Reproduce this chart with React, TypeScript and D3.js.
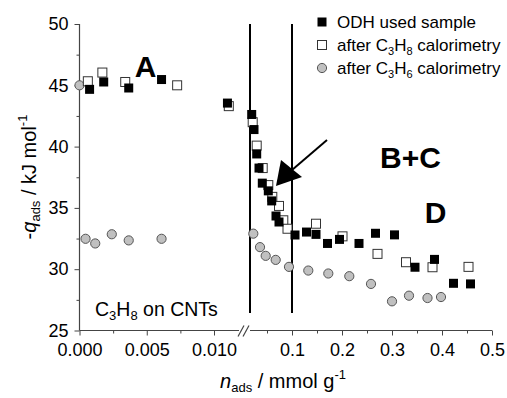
import React, { useRef, useEffect } from "react";
import * as d3 from "d3";

// n_ads (mmol/g), -q_ads (kJ/mol)
const odhUsed: [number, number][] = [
  [0.00075, 44.67], [0.0018, 45.27], [0.00366, 44.78], [0.0061, 45.47], [0.011, 43.55],
  [0.0194, 42.62], [0.024, 41.39], [0.0294, 39.4], [0.034, 38.25], [0.0406, 37.02],
  [0.0526, 36.39], [0.0594, 35.57], [0.068, 34.34], [0.074, 33.85], [0.106, 32.79],
  [0.129, 33.03], [0.148, 32.84], [0.171, 32.1], [0.195, 32.43], [0.234, 32.1],
  [0.267, 32.93], [0.305, 32.8], [0.346, 30.16], [0.385, 30.8], [0.423, 28.85], [0.457, 28.8],
];
const afterPropane: [number, number][] = [
  [0.00062, 45.33], [0.0017, 46.04], [0.0034, 45.27], [0.00726, 45.0], [0.0111, 43.3],
  [0.0214, 41.99], [0.0294, 40.08], [0.0414, 38.25], [0.0526, 36.86], [0.0606, 35.9],
  [0.074, 35.16], [0.0826, 33.99], [0.091, 33.3], [0.148, 33.71], [0.201, 32.68],
  [0.271, 31.25], [0.328, 30.57], [0.381, 30.16], [0.453, 30.19],
];
const afterPropene: [number, number][] = [
  [0.0, 45.0], [0.00045, 32.48], [0.00117, 32.1], [0.0024, 32.85], [0.00366, 32.35], [0.0061, 32.48],
  [0.0226, 32.9], [0.036, 31.8], [0.0474, 31.09], [0.0674, 30.76], [0.094, 30.19],
  [0.1326, 29.89], [0.1726, 29.65], [0.2146, 29.43], [0.258, 28.8], [0.3, 27.38],
  [0.334, 27.84], [0.371, 27.65], [0.398, 27.73],
];
const leftTicks = [0, 0.005, 0.01];
const leftMinor = [0.0025, 0.0075];
const rightTicks = [0.1, 0.2, 0.3, 0.4, 0.5];
const rightMinor = [0.05, 0.15, 0.25, 0.35, 0.45];
const yTicks = [25, 30, 35, 40, 45, 50];
const yMinor = [27.5, 32.5, 37.5, 42.5, 47.5];
const regionLines = [0.016, 0.1];

const FONT = "'Liberation Sans', Arial, sans-serif";

const Chart: React.FC = () => {
  const ref = useRef<SVGSVGElement | null>(null);

  useEffect(() => {
    if (!ref.current) return;
    const svg = d3.select(ref.current);
    svg.selectAll("*").remove();

    const y = d3.scaleLinear().domain([25, 50]).range([330.5, 24]);
    const xL = d3.scaleLinear().domain([0, 0.01]).range([79.5, 214]);
    const xR = d3.scaleLinear().domain([0, 0.5]).range([242, 492]);
    const xPos = (n: number) => (n < 0.0125 ? xL(n) : xR(n));
    const axisColor = "#444";
    const y0 = y(25);

    // axes
    const ga = svg.append("g").attr("font-family", FONT);
    const leftAx = ga.append("g").attr("transform", `translate(0,${y0})`)
      .call(d3.axisBottom(xL).tickValues(leftTicks).tickFormat(d3.format(".3f")).tickSize(5).tickPadding(8));
    const rightAx = ga.append("g").attr("transform", `translate(0,${y0})`)
      .call(d3.axisBottom(xR).tickValues(rightTicks).tickFormat(d3.format(".1f")).tickSize(5).tickPadding(8));
    const yAx = ga.append("g").attr("transform", `translate(${xL(0)},0)`)
      .call(d3.axisLeft(y).tickValues(yTicks).tickSize(5).tickPadding(6));
    [leftAx, rightAx, yAx].forEach((a) => {
      a.select(".domain").remove();
      a.selectAll("text").attr("font-size", 18).attr("fill", "#000");
    });
    ga.append("g").attr("transform", `translate(0,${y0})`)
      .call(d3.axisBottom(xL).tickValues(leftMinor).tickSize(3).tickFormat(() => ""))
      .call((g) => g.select(".domain").remove());
    ga.append("g").attr("transform", `translate(0,${y0})`)
      .call(d3.axisBottom(xR).tickValues(rightMinor).tickSize(3).tickFormat(() => ""))
      .call((g) => g.select(".domain").remove());
    ga.append("g").attr("transform", `translate(${xL(0)},0)`)
      .call(d3.axisLeft(y).tickValues(yMinor).tickSize(3).tickFormat(() => ""))
      .call((g) => g.select(".domain").remove());
    ga.selectAll("line").attr("stroke", axisColor);

    ga.append("line").attr("x1", xL(0)).attr("x2", 239).attr("y1", y0).attr("y2", y0)
      .attr("stroke", axisColor).attr("stroke-width", 1.2);
    ga.append("line").attr("x1", 250).attr("x2", xR(0.5)).attr("y1", y0).attr("y2", y0)
      .attr("stroke", axisColor).attr("stroke-width", 1.2);
    ga.append("line").attr("x1", xL(0)).attr("x2", xL(0)).attr("y1", y(50)).attr("y2", y0)
      .attr("stroke", axisColor).attr("stroke-width", 1.2);
    // axis break
    [0, 5].forEach((d) => {
      ga.append("line").attr("x1", 238 + d).attr("y1", y0 + 6).attr("x2", 244 + d).attr("y2", y0 - 5)
        .attr("stroke", axisColor).attr("stroke-width", 1.2);
    });

    // region separators
    svg.append("g").selectAll("line").data(regionLines).join("line")
      .attr("x1", (d) => xR(d)).attr("x2", (d) => xR(d))
      .attr("y1", y(50)).attr("y2", 313)
      .attr("stroke", "#000").attr("stroke-width", 2);

    // data
    const s = 9;
    svg.append("g").selectAll("circle").data(afterPropene).join("circle")
      .attr("cx", (d) => xPos(d[0])).attr("cy", (d) => y(d[1])).attr("r", 4.6)
      .attr("fill", "#c0c0c0").attr("stroke", "#555");
    svg.append("g").selectAll("rect").data(afterPropane).join("rect")
      .attr("x", (d) => xPos(d[0]) - s / 2).attr("y", (d) => y(d[1]) - s / 2)
      .attr("width", s).attr("height", s)
      .attr("fill", "#fff").attr("stroke", "#333");
    svg.append("g").selectAll("rect").data(odhUsed).join("rect")
      .attr("x", (d) => xPos(d[0]) - s / 2).attr("y", (d) => y(d[1]) - s / 2)
      .attr("width", s).attr("height", s).attr("fill", "#000");

    // legend
    const lg = svg.append("g").attr("font-family", FONT).attr("font-size", 17);
    const lx = 322, ly = 22, dy = 23;
    const tx = 337;
    lg.append("rect").attr("x", lx - s / 2).attr("y", ly - s / 2).attr("width", s).attr("height", s).attr("fill", "#000");
    lg.append("rect").attr("x", lx - s / 2).attr("y", ly + dy - s / 2).attr("width", s).attr("height", s)
      .attr("fill", "#fff").attr("stroke", "#333");
    lg.append("circle").attr("cx", lx).attr("cy", ly + 2 * dy).attr("r", 4.6).attr("fill", "#c0c0c0").attr("stroke", "#555");
    const t1 = lg.append("text").attr("x", tx).attr("y", ly + 6);
    t1.text("ODH used sample");
    const t2 = lg.append("text").attr("x", tx).attr("y", ly + dy + 6);
    t2.append("tspan").text("after C");
    t2.append("tspan").attr("font-size", 11).attr("dy", 4).text("3");
    t2.append("tspan").attr("dy", -4).text("H");
    t2.append("tspan").attr("font-size", 11).attr("dy", 4).text("8");
    t2.append("tspan").attr("dy", -4).text(" calorimetry");
    const t3 = lg.append("text").attr("x", tx).attr("y", ly + 2 * dy + 6);
    t3.append("tspan").text("after C");
    t3.append("tspan").attr("font-size", 11).attr("dy", 4).text("3");
    t3.append("tspan").attr("dy", -4).text("H");
    t3.append("tspan").attr("font-size", 11).attr("dy", 4).text("6");
    t3.append("tspan").attr("dy", -4).text(" calorimetry");

    // region labels
    const ann = svg.append("g").attr("font-family", FONT).attr("font-weight", "bold").attr("font-size", 30);
    ann.append("text").attr("x", 145.5).attr("y", 77).attr("text-anchor", "middle").text("A");
    ann.append("text").attr("x", 380).attr("y", 168).text("B+C");
    ann.append("text").attr("x", 435.5).attr("y", 223).attr("text-anchor", "middle").text("D");

    // arrow
    svg.append("line").attr("x1", 327).attr("y1", 140).attr("x2", 292).attr("y2", 170)
      .attr("stroke", "#000").attr("stroke-width", 2);
    svg.append("path").attr("d", "M276,186 L281,160 L302,177 Z").attr("fill", "#000");

    // sample note
    const note = svg.append("text").attr("font-family", FONT).attr("font-size", 19.5).attr("x", 95).attr("y", 316);
    note.append("tspan").text("C");
    note.append("tspan").attr("font-size", 13).attr("dy", 4).text("3");
    note.append("tspan").attr("dy", -4).text("H");
    note.append("tspan").attr("font-size", 13).attr("dy", 4).text("8");
    note.append("tspan").attr("dy", -4).text(" on CNTs");

    // axis titles
    const xt = svg.append("text").attr("font-family", FONT).attr("font-size", 20)
      .attr("x", 283).attr("y", 388).attr("text-anchor", "middle");
    xt.append("tspan").attr("font-style", "italic").text("n");
    xt.append("tspan").attr("font-size", 13).attr("dy", 4).text("ads");
    xt.append("tspan").attr("dy", -4).text(" / mmol g");
    xt.append("tspan").attr("font-size", 13).attr("dy", -9).text("-1");

    const yt = svg.append("text").attr("font-family", FONT).attr("font-size", 20)
      .attr("transform", "translate(36,177) rotate(-90)").attr("text-anchor", "middle");
    yt.append("tspan").text("-");
    yt.append("tspan").attr("font-style", "italic").text("q");
    yt.append("tspan").attr("font-size", 13).attr("dy", 4).text("ads");
    yt.append("tspan").attr("dy", -4).text(" / kJ mol");
    yt.append("tspan").attr("font-size", 13).attr("dy", -9).text("-1");
  }, []);

  return <svg ref={ref} width={507} height={398} style={{ display: "block", background: "#fff" }} />;
};

export default function App() {
  return (
    <div style={{ position: "fixed", left: 0, top: 0, width: 507, height: 398, background: "#fff" }}>
      <Chart />
    </div>
  );
}
